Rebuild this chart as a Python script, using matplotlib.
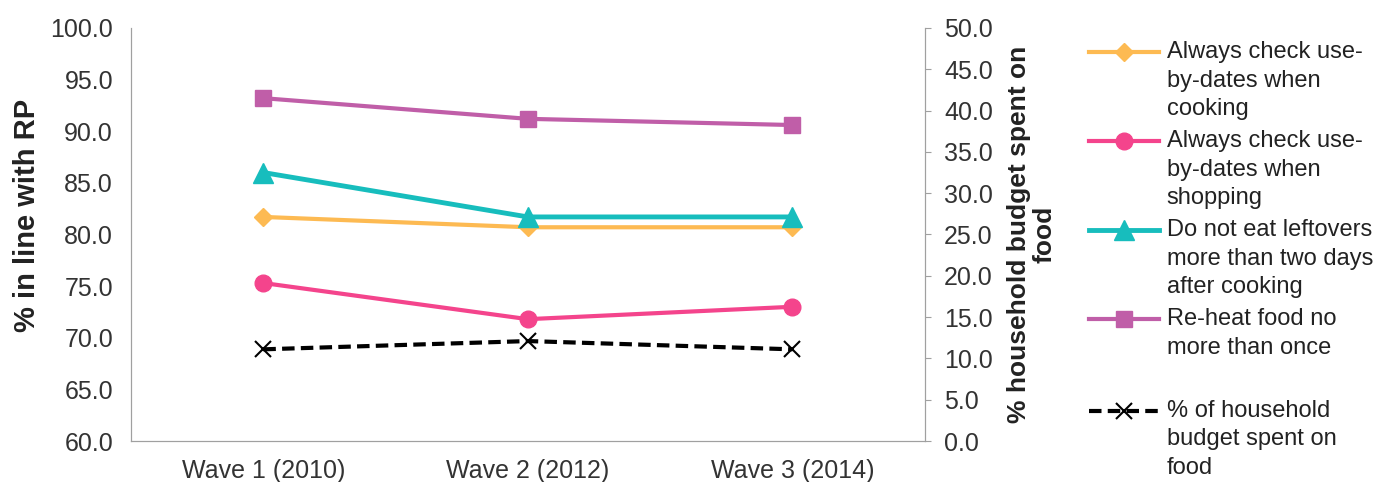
import matplotlib.pyplot as plt
from matplotlib.lines import Line2D
from matplotlib.legend_handler import HandlerLine2D

plt.rcParams['font.family'] = ['Liberation Sans', 'DejaVu Sans']

waves = ['Wave 1 (2010)', 'Wave 2 (2012)', 'Wave 3 (2014)']
cooking = [81.7, 80.7, 80.7]
shopping = [75.3, 71.8, 73.0]
leftovers = [86.0, 81.7, 81.7]
reheat = [93.2, 91.2, 90.6]
budget = [11.1, 12.1, 11.1]

labels = ['Always check use-\nby-dates when\ncooking',
          'Always check use-\nby-dates when\nshopping',
          'Do not eat leftovers\nmore than two days\nafter cooking',
          'Re-heat food no\nmore than once',
          '% of household\nbudget spent on\nfood']


class TopHandler(HandlerLine2D):
    # put the legend line next to the first line of a multi-line label
    def __init__(self, nlines, **kw):
        super().__init__(**kw)
        self.nlines = nlines

    def create_artists(self, legend, orig_handle, xdescent, ydescent,
                       width, height, fontsize, trans):
        shift = (self.nlines - 1) * 1.22 * fontsize
        return super().create_artists(legend, orig_handle, xdescent, ydescent - shift,
                                      width, height, fontsize, trans)


fig = plt.figure(figsize=(13.8, 4.82), dpi=100)
ax = fig.add_axes([0.095, 0.085, 0.575, 0.857])
ax2 = ax.twinx()

x = range(len(waves))
h1, = ax.plot(x, cooking, color='#FDBA52', lw=3, marker='D', ms=9, label=labels[0])
h2, = ax.plot(x, shopping, color='#F4448C', lw=3, marker='o', ms=12, label=labels[1])
h3, = ax.plot(x, leftovers, color='#17BDBD', lw=3.5, marker='^', ms=14, label=labels[2])
h4, = ax.plot(x, reheat, color='#C05EA8', lw=3, marker='s', ms=12, label=labels[3])
h5, = ax2.plot(x, budget, color='black', lw=3, ls=(0, (3, 1.5)), marker='x', ms=12,
               mew=1.5, label=labels[4])

ax.set_xlim(-0.5, 2.5)
ax.set_ylim(60, 100)
ax2.set_ylim(0, 50)
ax.set_yticks(range(60, 101, 5))
ax.set_yticklabels([f'{v:.1f}' for v in range(60, 101, 5)])
ax2.set_yticks(range(0, 51, 5))
ax2.set_yticklabels([f'{v:.1f}' for v in range(0, 51, 5)])
ax.set_xticks(list(x))
ax.set_xticklabels(waves)

for a in (ax, ax2):
    a.spines['top'].set_visible(False)
    for s in ('left', 'right', 'bottom'):
        a.spines[s].set_color('#A0A0A0')
    a.tick_params(labelsize=18, colors='#333333', labelcolor='#333333')
ax.tick_params(axis='x', length=0, pad=13)
ax.tick_params(axis='y', length=0, pad=13)
ax2.tick_params(axis='y', length=4, color='#A0A0A0', pad=10)

ax.set_ylabel('% in line with RP', fontsize=21, fontweight='bold', color='#222222')
ax.yaxis.set_label_coords(-0.113, 0.547)
ax2.set_ylabel('% household budget spent on\nfood', fontsize=19, fontweight='bold',
               color='#222222', labelpad=10, linespacing=1.1)

blank = Line2D([], [], color='none')
handles = [h1, h2, h3, h4, blank, h5]
nlines = [3, 3, 3, 2, 1, 3]
leg = fig.legend(handles, labels[:4] + [''] + labels[4:],
                 handler_map={h: TopHandler(n) for h, n in zip(handles, nlines)},
                 loc='upper left', bbox_to_anchor=(0.782, 0.935), frameon=False,
                 fontsize=17, handlelength=3.0, handletextpad=0.3,
                 labelspacing=0.4, borderaxespad=0)
for t in leg.get_texts():
    t.set_linespacing(1.4)
    t.set_color('#222222')

fig.savefig('out.png', dpi=100)
